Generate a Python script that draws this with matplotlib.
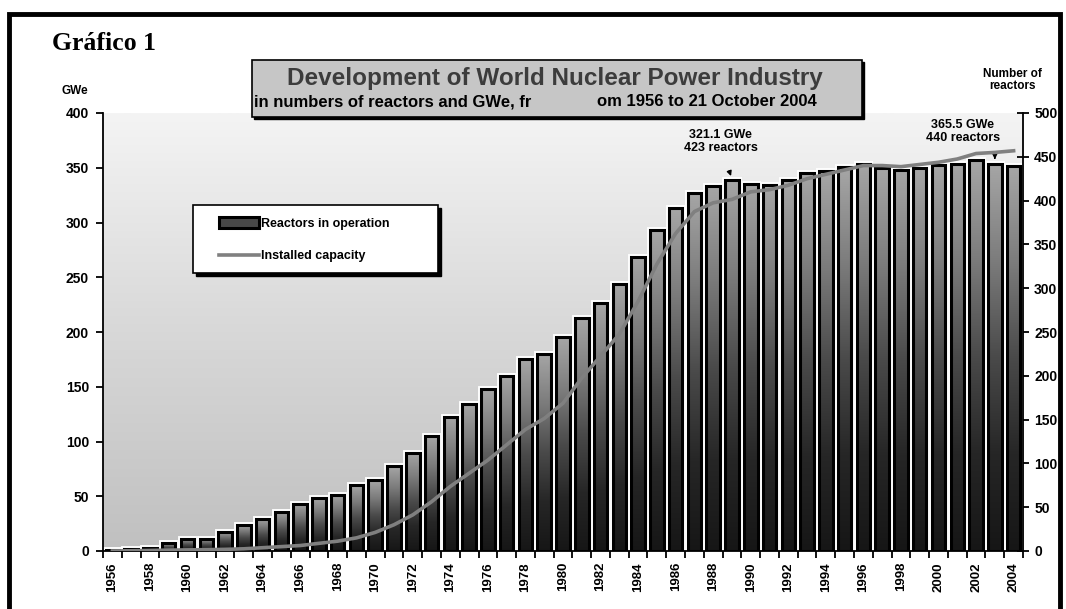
# Development of World Nuclear Power Industry - bars + line, two y axes

import numpy as np
import matplotlib.pyplot as plt
from matplotlib.patches import Rectangle, Patch
from matplotlib.lines import Line2D
from matplotlib.colors import LinearSegmentedColormap

plt.rcParams['font.family'] = ['Liberation Sans', 'DejaVu Sans']

years = list(range(1956, 2005))
reactors = [1, 2, 3, 9, 14, 14, 22, 30, 37, 45, 54, 60, 64, 75, 81,
            97, 112, 131, 153, 168, 185, 200, 219, 225, 244, 266, 283, 305,
            336, 366, 392, 409, 417, 423, 419, 418, 423, 432, 434, 438,
            442, 437, 435, 437, 441, 442, 446, 442, 440]
gwe = [0.05, 0.2, 0.5, 0.8, 1.0, 1.2, 1.5, 2, 3, 4, 5, 7, 9, 12, 17,
       24, 33, 45, 59, 71, 83, 97, 111, 121, 135, 158, 178, 198, 228, 262,
       290, 310, 318, 321.1, 328, 330, 334, 340, 344, 348, 352, 352, 351,
       353, 355, 358, 363, 364, 365.5]
year_labels = [str(y) if y % 2 == 0 else '' for y in years]

W, H = 1066, 609
fx = lambda x: x / W
fy = lambda y: 1 - y / H

fig = plt.figure(figsize=(W / 100, H / 100), dpi=100)
fig.patch.set_facecolor('white')

ax1 = fig.add_axes([fx(103), fy(551), (1023 - 103) / W, (551 - 113) / H])
ax2 = ax1.twinx()

idx = np.arange(len(years))

# plot background gradient
bg_cmap = LinearSegmentedColormap.from_list('bg', ['#c0c0c0', '#d8d8d8', '#f4f4f4'])
ax1.imshow(np.linspace(0, 1, 256).reshape(-1, 1), extent=[0, 1, 0, 1],
           transform=ax1.transAxes, origin='lower', aspect='auto',
           cmap=bg_cmap, zorder=0)

# bars: white halo, gradient fill, black edge
halo = ax1.bar(idx, reactors, width=0.72, facecolor='none',
               edgecolor='white', linewidth=4.2, zorder=2)
bar_cmap = LinearSegmentedColormap.from_list(
    'bar', ['#161616', '#262626', '#4a4a4a', '#7c7c7c', '#a6a6a6'])
grad = np.linspace(0, 1, 256).reshape(-1, 1)
for rect in halo:
    x0 = rect.get_x()
    im = ax1.imshow(grad, extent=[x0, x0 + rect.get_width(), 0, rect.get_height()],
                    origin='lower', aspect='auto', cmap=bar_cmap, zorder=2.2)
    im.set_clip_path(rect)
ax1.bar(idx, reactors, width=0.72, facecolor='none', edgecolor='black',
        linewidth=2.2, zorder=2.4)

# installed capacity line on GWe axis
ax2.plot(idx, gwe, color='#808080', linewidth=2.6, zorder=3)

ax1.set_xlim(-0.5, len(years) - 0.5)
ax1.set_ylim(0, 500)
ax2.set_ylim(0, 400)

# axes styling
for a in (ax1, ax2):
    a.spines['top'].set_visible(False)
ax1.spines['left'].set_visible(False)
ax2.spines['bottom'].set_visible(False)
ax2.spines['right'].set_visible(False)
ax1.spines['right'].set_linewidth(1.3)
ax1.spines['bottom'].set_linewidth(1.3)
ax2.spines['left'].set_linewidth(1.3)

ax1.yaxis.tick_right()
ax2.yaxis.tick_left()
ax1.set_yticks(range(0, 501, 50))
ax2.set_yticks(range(0, 401, 50))
ax1.tick_params(axis='y', direction='inout', length=8, width=1.3,
                labelsize=10, pad=4)
ax2.tick_params(axis='y', direction='out', length=5, width=1.3,
                labelsize=10, pad=5)
for lab in ax1.get_yticklabels() + ax2.get_yticklabels():
    lab.set_fontweight('bold')

ax1.set_xticks(idx)
ax1.set_xticklabels(year_labels, rotation=90, fontsize=9.5, fontweight='bold')
ax1.set_xticks(np.arange(-0.5, len(years), 1), minor=True)
ax1.tick_params(axis='x', which='major', length=0, pad=8)
ax1.tick_params(axis='x', which='minor', direction='out', length=5, width=1.3)

# annotations
ax2.text(32.4, 374, '321.1 GWe\n423 reactors', ha='center', va='center',
         fontsize=9, fontweight='bold', linespacing=1.1)
ax1.annotate('', xy=(33, reactors[33] + 2), xytext=(32.8, reactors[33] + 14),
             arrowprops=dict(arrowstyle='-|>', color='black', lw=1,
                             mutation_scale=7), zorder=5)
ax2.text(45.3, 383, '365.5 GWe\n440 reactors', ha='center', va='center',
         fontsize=9, fontweight='bold', linespacing=1.1)
ax1.annotate('', xy=(47, reactors[47] + 2), xytext=(47, reactors[47] + 10),
             arrowprops=dict(arrowstyle='-|>', color='black', lw=1,
                             mutation_scale=7), zorder=5)

# legend box
fig.add_artist(Rectangle((fx(196), fy(276)), (438 - 193) / W, (273 - 205) / H,
                         transform=fig.transFigure, facecolor='black',
                         edgecolor='black', zorder=4))
fig.add_artist(Rectangle((fx(193), fy(273)), (438 - 193) / W, (273 - 205) / H,
                         transform=fig.transFigure, facecolor='white',
                         edgecolor='black', linewidth=1.2, zorder=4.1))
handles = [Patch(facecolor='#484848', edgecolor='black', linewidth=2.2),
           Line2D([], [], color='#808080', linewidth=2.6)]
leg = fig.legend(handles, ['Reactors in operation', 'Installed capacity'],
                 loc='upper left', bbox_to_anchor=(fx(208), fy(206)),
                 frameon=False, handlelength=3.2, handleheight=0.9,
                 handletextpad=0.15, labelspacing=1.6,
                 prop={'size': 9, 'weight': 'bold'})
leg.set_zorder(4.2)

# title box
fig.add_artist(Rectangle((fx(254), fy(119)), (862 - 252) / W, (117 - 60) / H,
                         transform=fig.transFigure, facecolor='black',
                         edgecolor='black', zorder=4))
fig.add_artist(Rectangle((fx(252), fy(117)), (862 - 252) / W, (117 - 60) / H,
                         transform=fig.transFigure, facecolor='#c6c6c6',
                         edgecolor='black', linewidth=1.2, zorder=4.1))
fig.text(fx(555), fy(78), 'Development of World Nuclear Power Industry',
         ha='center', va='center', fontsize=17.5, fontweight='bold',
         color='#3c3c3c', zorder=5)
fig.text(fx(254), fy(102), 'in numbers of reactors and GWe, fr',
         ha='left', va='center', fontsize=12, fontweight='bold', zorder=5)
fig.text(fx(597), fy(102), 'om 1956 to 21 October 2004',
         ha='left', va='center', fontsize=12, fontweight='bold', zorder=5)

# headings
fig.text(fx(52), fy(44), 'Gráfico 1', ha='left', va='center', fontsize=18.5,
         fontweight='bold', family=['Liberation Serif', 'DejaVu Serif'])
fig.text(fx(62), fy(91), 'GWe', ha='left', va='center', fontsize=8.5,
         fontweight='bold')
fig.text(fx(1012), fy(80), 'Number of\nreactors', ha='center', va='center',
         fontsize=8.5, fontweight='bold', linespacing=1.1)

# outer frame
fig.add_artist(Rectangle((fx(9), fy(640)), (1060 - 9) / W, (640 - 14) / H,
                         transform=fig.transFigure, fill=False,
                         edgecolor='black', linewidth=3.5, zorder=6))

fig.savefig('out.png', dpi=100)
